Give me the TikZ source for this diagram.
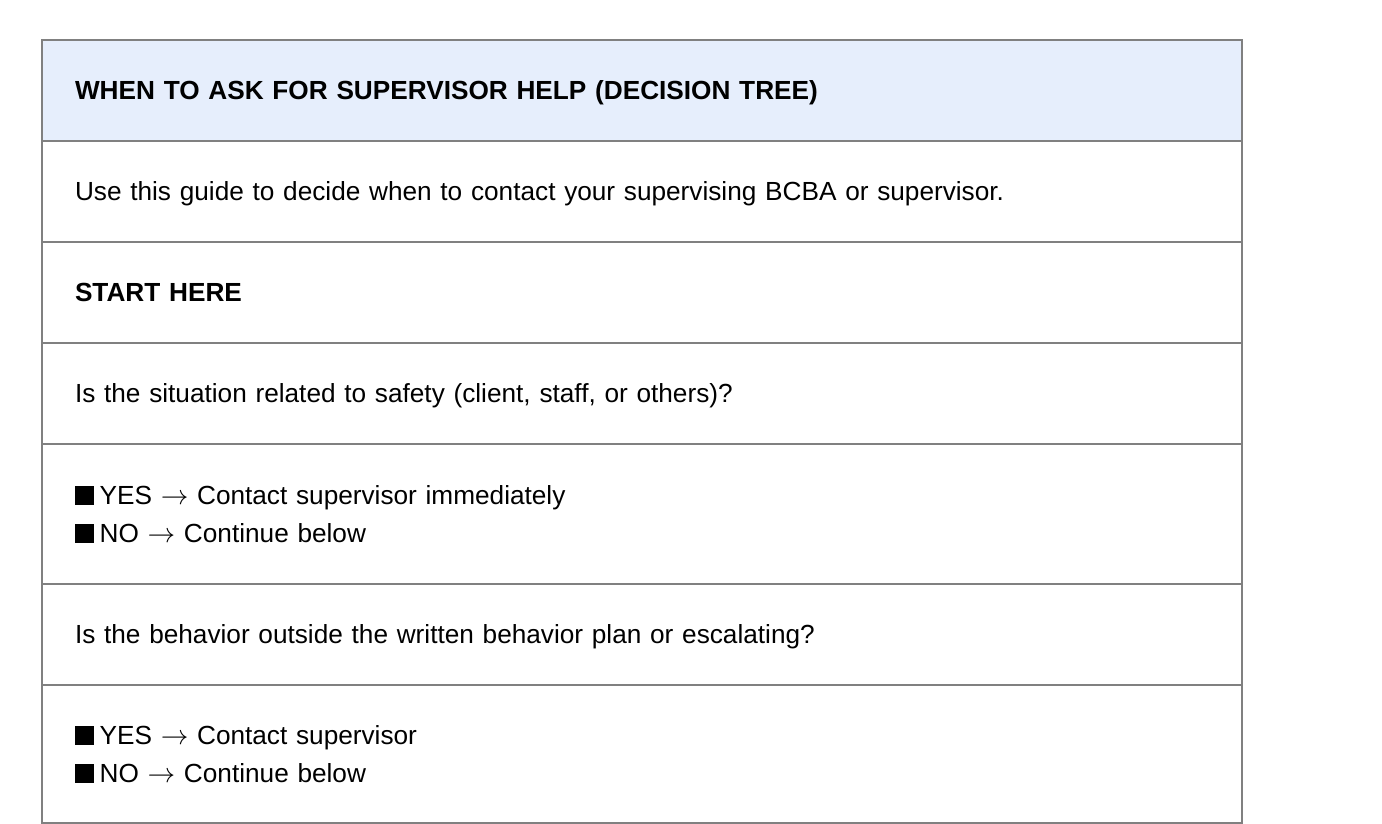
\documentclass[tikz,border=0pt]{standalone}
\usepackage{fontspec}
\setmainfont{Liberation Sans}
\usetikzlibrary{positioning}

\definecolor{rulegray}{HTML}{808080}
\definecolor{headblue}{HTML}{E6EEFC}

\tikzset{
    rowbox/.style={draw=rulegray, line width=1pt, rectangle, anchor=north west,
        minimum width=600pt, text width=567pt, inner xsep=16.5pt, inner ysep=0pt,
        align=left, outer sep=0pt, font=\fontsize{13.1}{19}\selectfont},
    onerow/.style={rowbox, minimum height=50.5pt, text depth=0pt},
    headbox/.style={onerow, fill=headblue, font=\fontsize{13.1}{19}\selectfont\bfseries}
}

\newcommand{\choice}{\rule[-0.3pt]{9.3pt}{9.3pt}\hspace{3pt}}
\newcommand{\goesto}{\ \scalebox{1.15}{$\rightarrow$}\ }

\begin{document}
\begin{tikzpicture}[x=0.5pt, y=-0.5pt]

    \useasboundingbox (0,0) rectangle (1382,824);

    \node[headbox] (title) at (42,40)
        {WHEN TO ASK FOR SUPERVISOR HELP (DECISION TREE)};
    \node[onerow, below=0pt of title.south west, anchor=north west] (intro)
        {Use this guide to decide when to contact your supervising BCBA or supervisor.};
    \node[onerow, below=0pt of intro.south west, anchor=north west, font=\fontsize{13.1}{19}\selectfont\bfseries] (start)
        {START HERE};
    \node[onerow, below=0pt of start.south west, anchor=north west] (safetyq)
        {Is the situation related to safety (client, staff, or others)?};
    \node[rowbox, minimum height=70pt, below=0pt of safetyq.south west, anchor=north west] (safetya)
        {\choice YES\goesto Contact supervisor immediately\\
         \choice NO\goesto Continue below};
    \node[onerow, below=0pt of safetya.south west, anchor=north west] (planq)
        {Is the behavior outside the written behavior plan or escalating?};
    \node[rowbox, minimum height=69pt, below=0pt of planq.south west, anchor=north west] (plana)
        {\choice YES\goesto Contact supervisor\\
         \choice NO\goesto Continue below};

\end{tikzpicture}
\end{document}
